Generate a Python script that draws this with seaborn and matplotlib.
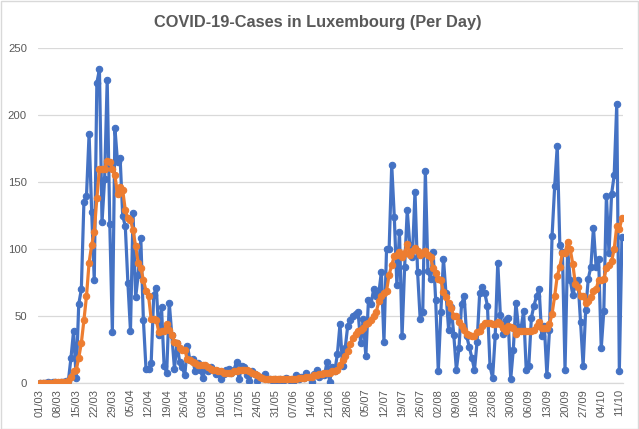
import numpy as np
import pandas as pd
import matplotlib
matplotlib.use("Agg")
import matplotlib.pyplot as plt
import matplotlib.dates as mdates
import matplotlib.ticker as mticker
from matplotlib.patches import Rectangle
import seaborn as sns

# ---------------- data ----------------
start_date = "2020-03-01"

daily_cases = [
    0, 0, 0, 1, 0, 1, 1, 0, 1, 1, 2,
    2, 19, 39, 4, 59, 70, 135, 140, 186, 128,
    77, 224, 234, 120, 152, 226, 119, 38, 190, 165,
    168, 125, 117, 75, 39, 127, 64, 81, 108, 47,
    11, 11, 15, 66, 71, 36, 57, 13, 8, 60,
    36, 11, 30, 16, 12, 6, 28, 17, 18, 9,
    15, 10, 4, 12, 9, 12, 10, 7, 9, 3,
    7, 10, 11, 8, 10, 16, 3, 13, 12, 6,
    2, 9, 7, 2, 5, 4, 7, 3, 3, 2,
    3, 2, 3, 2, 4, 3, 2, 1, 6, 3,
    5, 4, 8, 5, 1, 7, 10, 5, 7, 6,
    16, 1, 12, 9, 22, 44, 13, 26, 43, 47,
    50, 52, 53, 30, 48, 20, 62, 59, 70, 65,
    67, 83, 31, 100, 100, 163, 124, 73, 113, 35,
    87, 129, 103, 94, 143, 83, 48, 53, 158, 84,
    78, 98, 62, 9, 53, 93, 67, 40, 57, 36,
    10, 26, 59, 65, 35, 27, 19, 10, 31, 67,
    72, 67, 58, 13, 4, 35, 90, 51, 37, 47,
    49, 3, 25, 60, 42, 41, 54, 10, 13, 49,
    58, 65, 70, 35, 43, 6, 40, 110, 147, 177,
    103, 98, 10, 100, 77, 66, 73, 77, 46, 13,
    55, 78, 87, 116, 87, 93, 26, 54, 140, 97,
    141, 155, 208, 9, 109,
]

average_cases = [
    0, 0, 0, 0, 0, 0, 1, 1, 1, 1, 1,
    2, 5, 9, 10, 19, 30, 47, 65, 90, 103,
    113, 138, 160, 160, 160, 166, 165, 160, 155, 141,
    146, 144, 129, 123, 122, 114, 102, 90, 86, 77,
    69, 65, 48, 48, 47, 38, 39, 39, 44, 40,
    36, 31, 30, 26, 25, 25, 18, 17, 16, 15,
    14, 14, 14, 14, 12, 11, 10, 10, 9, 9,
    8, 8, 8, 8, 9, 9, 10, 10, 10, 10,
    9, 8, 7, 6, 5, 4, 3, 3, 3, 3,
    3, 3, 3, 3, 3, 3, 3, 3, 3, 4,
    4, 4, 5, 5, 5, 6, 6, 7, 7, 8,
    8, 8, 9, 9, 10, 14, 17, 20, 24, 29,
    34, 37, 39, 40, 41, 44, 45, 47, 50, 53,
    61, 65, 67, 69, 81, 88, 95, 96, 98, 94,
    97, 104, 96, 99, 101, 99, 96, 97, 99, 96,
    94, 86, 82, 78, 77, 68, 64, 60, 56, 50,
    50, 46, 43, 40, 37, 36, 35, 35, 38, 39,
    43, 45, 45, 45, 44, 44, 46, 44, 41, 39,
    43, 42, 41, 37, 39, 39, 39, 39, 39, 39,
    40, 43, 46, 41, 41, 41, 44, 52, 65, 80,
    87, 97, 97, 105, 100, 89, 74, 72, 65, 65,
    60, 61, 64, 69, 70, 77, 77, 78, 86, 88,
    91, 100, 117, 115, 123,
]

title_text = "COVID-19-Cases in Luxembourg (Per Day)"
y_ticks = [0, 50, 100, 150, 200, 250]

# ---------------- build table ----------------
dates = pd.date_range(start_date, periods=len(daily_cases), freq="D")
df = pd.DataFrame({
    "date": list(dates) * 2,
    "cases": daily_cases + average_cases,
    "series": ["daily"] * len(daily_cases) + ["avg"] * len(average_cases),
})

# ---------------- styling ----------------
sns.set_theme(style="white")
plt.rcParams["font.family"] = ["Liberation Sans", "DejaVu Sans"]

W, H = 639, 429
fig = plt.figure(figsize=(W / 100, H / 100), dpi=100)
fig.patch.set_facecolor("white")
ax = fig.add_axes([38 / W, 1 - 383.3 / H, 585 / W, (383.3 - 48) / H])

blue = "#4472C4"
orange = "#ED7D31"

sns.lineplot(data=df[df.series == "daily"], x="date", y="cases", ax=ax,
             color=blue, linewidth=2.3, marker="o", markersize=4.6,
             markeredgecolor=blue, markeredgewidth=0.8, zorder=3)
sns.lineplot(data=df[df.series == "avg"], x="date", y="cases", ax=ax,
             color=orange, linewidth=2.3, marker="o", markersize=4.6,
             markeredgecolor=orange, markeredgewidth=0.8, zorder=4)

ax.set_ylim(0, 250)
ax.set_yticks(y_ticks)
ax.set_xlim(dates[0] - pd.Timedelta(hours=18), dates[-1] + pd.Timedelta(hours=10))
ax.xaxis.set_major_locator(mticker.FixedLocator(mdates.date2num(dates[::7])))
ax.xaxis.set_major_formatter(mdates.DateFormatter("%d/%m"))

ax.grid(axis="y", color="#D9D9D9", linewidth=0.9)
ax.grid(axis="x", visible=False)
for s in ["top", "right", "left"]:
    ax.spines[s].set_visible(False)
ax.spines["bottom"].set_color("#D9D9D9")
ax.spines["bottom"].set_linewidth(0.9)

ax.tick_params(axis="x", labelrotation=90, labelsize=8, colors="#595959",
               length=0, pad=4)
ax.tick_params(axis="y", labelsize=8.2, colors="#595959", length=0, pad=8)
ax.set_xlabel("")
ax.set_ylabel("")
if ax.get_legend() is not None:
    ax.get_legend().remove()

fig.text(0.5 - 2 / W, 1 - 22 / H, title_text, ha="center", va="center",
         fontsize=11.8, fontweight="bold", color="#595959")

# chart border
fig.patches.append(Rectangle((0.5 / W, 0.5 / H), 1 - 1.5 / W, 1 - 1.5 / H,
                             transform=fig.transFigure, fill=False,
                             edgecolor="#D9D9D9", linewidth=1.0))

fig.savefig("out.png", dpi=100, facecolor="white")
